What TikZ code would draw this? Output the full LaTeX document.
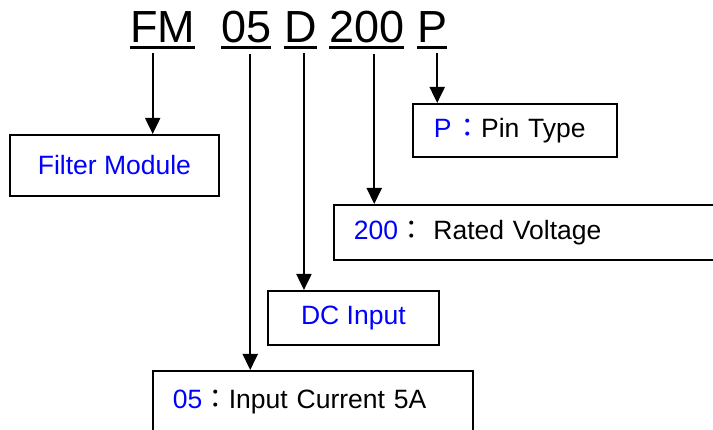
\documentclass[tikz,border=0pt]{standalone}
\usepackage{fontspec}
\setmainfont{Liberation Sans}
\newfontfamily\cjkfont{Noto Sans CJK TC}
\usepackage{xcolor}
\usetikzlibrary{arrows.meta}
\definecolor{textblue}{RGB}{0,0,255}
\newcommand{\fwcolon}{{\cjkfont ：}}

\begin{document}
\begin{tikzpicture}[x=1pt, y=-1pt,
          code/.style={inner sep=0pt, anchor=base west, font=\fontsize{45}{50}\selectfont},
          uline/.style={line width=3pt},
          arr/.style={line width=2pt, -{Triangle[length=16pt,width=15pt]}},
          box/.style={draw, line width=1.8pt, anchor=north west, font=\fontsize{26.5}{30}\selectfont}]
          \useasboundingbox (0,0) rectangle (713,430);

          \node[code] (fm) at (130,43) {FM};
          \node[code] (cur) at (221,43) {05};
          \node[code] (dc) at (284,43) {D};
          \node[code] (volt) at (329,43) {200};
          \node[code] (pin) at (417,43) {P};

          \foreach \n in {fm, cur, dc, volt, pin}
            \draw[uline] ([yshift=-5pt]\n.base west) -- ([yshift=-5pt]\n.base east);

          \node[box, minimum width=209pt, minimum height=61pt] (fmbox) at (9,134) {\color{textblue}Filter Module};
          \node[box, inner xsep=21pt, text width=162pt, align=left, minimum height=53pt] (pinbox) at (412,103) {{\color{textblue}P\hspace{3pt}\fwcolon}Pin Type};
          \node[box, inner xsep=20pt, text width=372pt, align=left, minimum height=55pt] (voltbox) at (333,204) {{\color{textblue}200}\fwcolon\ Rated Voltage};
          \node[box, minimum width=171pt, minimum height=54pt] (dcbox) at (267,290) {\color{textblue}DC Input};
          \node[box, inner xsep=20pt, text width=280pt, align=left, minimum height=62pt] (curbox) at (152,370) {{\color{textblue}05}\fwcolon Input Current 5A};

          \draw[arr] ([xshift=-10pt,yshift=-10pt]fm.south) -- ([xshift=-10pt]fm.south |- fmbox.north);
          \draw[arr] ([xshift=4pt,yshift=-10pt]cur.south) -- ([xshift=4pt]cur.south |- curbox.north);
          \draw[arr] ([xshift=3.5pt,yshift=-10pt]dc.south) -- ([xshift=3.5pt]dc.south |- dcbox.north);
          \draw[arr] ([xshift=7.5pt,yshift=-10pt]volt.south) -- ([xshift=7.5pt]volt.south |- voltbox.north);
          \draw[arr] ([xshift=5pt,yshift=-10pt]pin.south) -- ([xshift=5pt]pin.south |- pinbox.north);
        \end{tikzpicture}
\end{document}
